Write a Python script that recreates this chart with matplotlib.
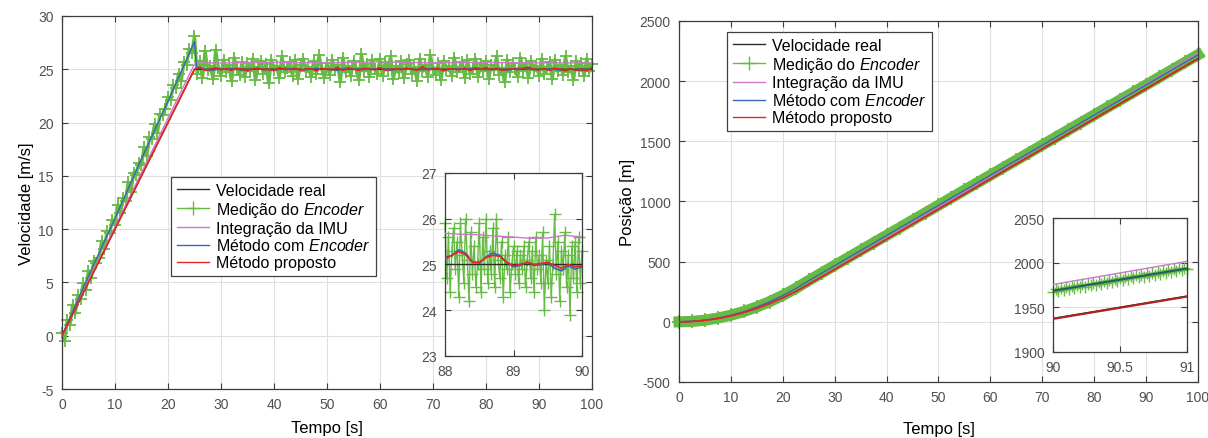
import numpy as np
import matplotlib.pyplot as plt
from matplotlib.lines import Line2D

plt.rcParams['font.family'] = ['Liberation Sans', 'DejaVu Sans']
plt.rcParams['mathtext.fontset'] = 'custom'
plt.rcParams['mathtext.rm'] = 'Liberation Sans'
plt.rcParams['mathtext.it'] = 'Liberation Sans:italic'
plt.rcParams['axes.unicode_minus'] = False

# colours
c_true = '#2b2b2b'
c_enc = '#66bb44'
c_imu = '#cc77cc'
c_meth = '#3a66b8'
c_prop = '#e52424'

labels = ['Velocidade real', r'Medição do $\it{Encoder}$', 'Integração da IMU',
          r'Método com $\it{Encoder}$', 'Método proposto']

# ---------------- velocity, main axes ----------------
t_vel_enc = np.arange(0, 100.01, 0.5)
vel_enc = [0.3, -0.5, 1.5, 1.0, 2.9, 2.1, 3.8, 3.4, 4.9, 4.3, 6.1, 5.4, 7.0, 6.8, 7.3, 8.9, 8.1,
           9.8, 9.6, 10.9, 10.4, 12.3, 11.5, 12.9, 12.6, 14.4, 13.5, 15.3, 15.1, 16.2, 16.0, 17.7,
           16.9, 18.6, 18.5, 19.9, 19.0, 20.8, 20.7, 21.3, 22.4, 22.1, 23.5, 23.2, 24.6, 23.9, 25.7,
           25.4, 26.9, 26.5, 28.1,
           24.6, 25.8, 24.2, 26.7, 24.9, 25.3, 24.1, 26.8, 25.1, 24.4,
           25.9, 24.7, 25.4, 23.9, 26.1, 25.0, 24.5, 25.7, 24.3, 25.6,
           24.8, 26.0, 24.0, 25.2, 25.8, 24.6, 25.5, 23.7, 25.9, 24.9,
           25.3, 24.2, 26.2, 24.7, 25.1, 25.7, 24.4, 25.9, 24.1, 25.4,
           26.0, 24.8, 25.2, 24.3, 25.8, 24.6, 26.3, 25.0, 24.2, 25.6,
           24.5, 25.9, 24.9, 25.4, 23.8, 26.1, 24.7, 25.3, 24.4, 25.8,
           25.1, 24.0, 26.4, 24.8, 25.5, 24.3, 25.9, 25.0, 24.6, 26.0,
           24.4, 25.7, 24.9, 26.2, 24.1, 25.3, 24.7, 25.8, 24.2, 25.5,
           25.9, 24.6, 25.2, 23.9, 26.0, 24.8, 25.4, 24.3, 26.3, 25.1,
           24.5, 25.6, 24.0, 25.8, 24.9, 25.3, 24.4, 26.1, 24.7, 25.2,
           25.7, 24.2, 25.9, 24.6, 25.0, 26.0, 24.3, 25.5, 24.8, 25.8,
           24.1, 25.4, 24.9, 26.2, 24.5, 25.1, 23.8, 25.9, 24.7, 25.6,
           25.0, 24.3, 26.1, 24.8, 25.5, 24.2, 25.8, 24.9, 25.3, 24.4,
           26.0, 24.6, 25.2, 25.7, 24.1, 25.9, 24.8, 25.4, 24.5, 26.2,
           24.7, 25.3, 24.0, 25.8, 24.9, 25.6, 24.4, 26.0, 24.8, 25.5]

t_vel_true = [0, 25, 100]
vel_true = [0, 25, 25]

t_vel_imu = [0, 25, 26, 30, 40, 50, 60, 70, 80, 90, 100]
vel_imu = [0, 25.5, 25.6, 25.6, 25.65, 25.6, 25.7, 25.6, 25.65, 25.6, 25.6]

t_vel_meth = [0, 5, 10, 15, 20, 25, 25.4] + list(range(26, 101, 2))
vel_meth = [0, 5.6, 11.0, 16.6, 22.0, 27.6, 25.1,
            25.1, 24.9, 25.0, 25.1, 24.9, 25.05, 25.0, 24.9, 25.1, 25.0, 24.95, 25.1, 25.0,
            24.9, 25.15, 24.95, 25.0, 25.1, 24.9, 25.05, 25.0, 24.95, 25.1, 24.9, 25.05, 25.0,
            25.15, 24.95, 25.0, 24.9, 25.1, 25.0, 24.95, 25.05, 24.9, 25.0, 24.85, 25.1]

t_vel_prop = [0, 25] + list(range(26, 101))
vel_prop = [0, 25.0,
            25.2, 24.9, 25.0, 25.15, 24.95, 25.05, 24.9, 25.1, 25.0, 24.85,
            25.05, 25.1, 24.95, 25.0, 24.9, 25.15, 25.0, 24.95, 25.1, 24.9,
            25.0, 25.05, 24.85, 25.1, 25.0, 24.95, 25.2, 24.9, 25.05, 25.0,
            24.9, 25.1, 25.0, 24.95, 25.15, 24.9, 25.0, 25.05, 24.95, 25.1,
            25.0, 24.9, 25.25, 24.95, 25.0, 25.1, 24.85, 25.05, 25.0, 24.95,
            25.1, 24.9, 25.05, 25.0, 25.15, 24.95, 25.1, 24.9, 25.0, 25.05,
            24.95, 25.1, 25.2, 25.0, 24.95, 25.05, 24.9, 25.1, 25.0, 24.85,
            25.05, 24.9, 25.0, 24.85, 25.15]

# ---------------- velocity, inset 88-90 s ----------------
t_in_enc = np.linspace(88, 90, 81)
in_enc = [25.9, 24.7, 25.6, 24.4, 25.3, 25.8, 24.9, 25.5, 24.3, 25.9,
          25.2, 24.6, 26.0, 25.1, 24.2, 25.7, 24.8, 25.4, 24.5, 25.0,
          25.9, 24.4, 25.6, 24.9, 26.0, 24.6, 25.3, 24.8, 25.8, 24.5,
          26.0, 25.1, 24.7, 25.5, 24.3, 25.2, 24.9, 25.6, 24.4, 25.0,
          25.4, 24.8, 25.3, 24.6, 25.2, 24.9, 25.4, 24.5, 25.1, 25.5,
          24.7, 25.3, 24.4, 25.6, 24.9, 25.2, 24.6, 25.7, 24.0, 25.1,
          24.6, 25.4, 24.3, 25.0, 26.1, 24.8, 25.5, 24.2, 25.3, 24.9,
          25.7, 24.5, 25.2, 23.9, 25.4, 24.7, 25.5, 24.4, 25.6, 24.6,
          25.3]
t_in_imu = [88, 88.25, 88.5, 88.75, 89, 89.25, 89.5, 89.75, 90]
in_imu = [25.68, 25.66, 25.65, 25.62, 25.6, 25.57, 25.58, 25.64, 25.6]
t_in_f = np.linspace(88, 90, 21)
in_meth = [25.12, 25.2, 25.32, 25.25, 25.05, 25.03, 25.17, 25.25, 25.2, 25.05, 24.95,
           24.98, 25.05, 24.98, 25.0, 25.03, 24.92, 24.86, 24.97, 24.9, 24.95]
in_prop = [25.15, 25.2, 25.28, 25.22, 25.05, 25.05, 25.15, 25.2, 25.18, 25.05, 24.97,
           25.0, 25.05, 25.0, 25.02, 25.05, 24.98, 24.92, 25.0, 24.95, 24.97]

# ---------------- position, main axes ----------------
t_pos = np.arange(0, 100.01, 2.5)
pos_true = [0, 3.1, 12.5, 28.1, 50.0, 78.1, 112.5, 153.1, 200.0, 253.1, 312.5,
            375, 437.5, 500, 562.5, 625, 687.5, 750, 812.5, 875, 937.5, 1000, 1062.5,
            1125, 1187.5, 1250, 1312.5, 1375, 1437.5, 1500, 1562.5, 1625, 1687.5, 1750,
            1812.5, 1875, 1937.5, 2000, 2062.5, 2125, 2187.5]
pos_enc = [0, 3.4, 13.8, 30.9, 55.0, 85.9, 123.8, 168.4, 220.0, 278.4, 343.8,
           406.3, 468.8, 531.3, 593.8, 656.3, 718.8, 781.3, 843.8, 906.3, 968.8, 1031.3,
           1093.8, 1156.3, 1218.8, 1281.3, 1343.8, 1406.3, 1468.8, 1531.3, 1593.8, 1656.3,
           1718.8, 1781.3, 1843.8, 1906.3, 1968.8, 2031.3, 2093.8, 2156.3, 2218.8]
pos_imu = [0, 3.1, 12.5, 28.1, 50.0, 78.1, 112.5, 153.1, 200.0, 253.1, 312.5,
           376.5, 440.5, 504.5, 568.5, 632.5, 696.5, 760.5, 824.5, 888.5, 952.5, 1016.5,
           1080.5, 1144.5, 1208.5, 1272.5, 1336.5, 1400.5, 1464.5, 1528.5, 1592.5, 1656.5,
           1720.5, 1784.5, 1848.5, 1912.5, 1976.5, 2040.5, 2104.5, 2168.5, 2232.5]
pos_meth = [0, 3.3, 13.6, 30.6, 54.5, 85.2, 122.8, 167.2, 218.6, 276.8, 341.9,
            404.6, 467.2, 529.8, 592.3, 654.8, 717.4, 780.0, 842.5, 905.0, 967.6, 1030.1,
            1092.6, 1155.2, 1217.8, 1280.3, 1342.8, 1405.4, 1468.0, 1530.5, 1593.0, 1655.6,
            1718.2, 1780.7, 1843.2, 1905.8, 1968.4, 2030.9, 2093.4, 2156.0, 2218.5]
pos_prop = [0, 3.0, 12.4, 28.0, 49.8, 77.9, 112.2, 152.8, 199.6, 252.7, 312.0,
            374.5, 437.0, 499.5, 562.0, 624.5, 687.0, 749.5, 812.0, 874.5, 937.0, 999.5,
            1062.0, 1124.5, 1187.0, 1249.5, 1312.0, 1374.5, 1437.0, 1499.5, 1562.0, 1624.5,
            1687.0, 1749.5, 1812.0, 1874.5, 1937.0, 1999.5, 2062.0, 2124.5, 2187.0]

# ---------------- position, inset 90-91 s ----------------
t_pin_enc = np.linspace(90, 91, 51)
pin_enc = [1967.3, 1970.8, 1968.6, 1971.9, 1969.5, 1972.6, 1970.4, 1973.7, 1971.2, 1974.5,
           1972.4, 1975.9, 1973.3, 1976.6, 1974.7, 1977.8, 1975.4, 1978.9, 1976.2, 1979.5,
           1977.6, 1980.8, 1978.4, 1981.7, 1979.3, 1982.9, 1980.5, 1983.6, 1981.4, 1984.8,
           1982.6, 1985.9, 1983.5, 1986.7, 1984.4, 1987.9, 1985.6, 1988.6, 1986.3, 1989.8,
           1987.5, 1990.9, 1988.4, 1991.7, 1989.5, 1992.8, 1990.6, 1993.9, 1991.4, 1994.6,
           1992.9]
t_pin = [90, 91]
pin_true = [1937.5, 1962.5]
pin_imu = [1975.5, 2001.5]
pin_meth = [1968.5, 1993.5]
pin_prop = [1937.0, 1962.0]


def style(ax, fs=10):
    ax.tick_params(direction='in', top=True, right=True, length=4, width=0.8, pad=6,
                   labelsize=fs, colors='#3c3c3c', labelcolor='#505050')
    for s in ax.spines.values():
        s.set_color('#3c3c3c')
        s.set_linewidth(0.9)
    ax.grid(True, color='#e0e0e0', linewidth=0.8)
    ax.set_axisbelow(True)


fig = plt.figure(figsize=(12.08, 4.39), dpi=100)

# left panel
ax1 = fig.add_axes([0.0513, 0.1116, 0.4388, 0.8497])
ax1.plot(t_vel_enc, vel_enc, color=c_enc, lw=2.4, marker='+', ms=9, mew=1.3, zorder=2, clip_on=False)
ax1.plot(t_vel_true, vel_true, color=c_true, lw=1, zorder=3)
ax1.plot(t_vel_imu, vel_imu, color=c_imu, lw=1, zorder=3)
ax1.plot(t_vel_meth, vel_meth, color=c_meth, lw=1, zorder=4)
ax1.plot(t_vel_prop, vel_prop, color=c_prop, lw=1.2, zorder=5)
ax1.set_xlim(0, 100)
ax1.set_ylim(-5, 30)
ax1.set_xticks(range(0, 101, 10))
ax1.set_yticks(range(-5, 31, 5))
ax1.set_xlabel('Tempo [s]', fontsize=12, labelpad=6)
ax1.set_ylabel('Velocidade [m/s]', fontsize=12, labelpad=3)
style(ax1)

handles = [Line2D([], [], color=c_true, lw=1),
           Line2D([], [], color=c_enc, lw=1, marker='+', ms=10),
           Line2D([], [], color=c_imu, lw=1),
           Line2D([], [], color=c_meth, lw=1),
           Line2D([], [], color=c_prop, lw=1)]
leg_kw = dict(loc='upper left', fontsize=11.5, frameon=True, fancybox=False, framealpha=1,
              edgecolor='#404040', labelspacing=0.12, handlelength=2.0, handletextpad=0.45,
              borderpad=0.35, borderaxespad=0)
leg1 = ax1.legend(handles, labels, bbox_to_anchor=(0.2057, 0.568), **leg_kw)
leg1.get_frame().set_linewidth(0.9)

# left inset
ax1i = fig.add_axes([0.3684, 0.1868, 0.1134, 0.4169])
ax1i.plot(t_in_enc, in_enc, color=c_enc, lw=1, marker='+', ms=8, mew=1, zorder=2, clip_on=False)
ax1i.plot([88, 90], [25, 25], color=c_true, lw=1, zorder=3)
ax1i.plot(t_in_imu, in_imu, color=c_imu, lw=1, zorder=3)
ax1i.plot(t_in_f, in_meth, color=c_meth, lw=1.2, zorder=4)
ax1i.plot(t_in_f, in_prop, color=c_prop, lw=1.2, zorder=5)
ax1i.set_xlim(88, 90)
ax1i.set_ylim(23, 27)
ax1i.set_xticks([88, 89, 90])
ax1i.set_yticks([23, 24, 25, 26, 27])
style(ax1i)

# right panel
ax2 = fig.add_axes([0.5621, 0.1276, 0.4296, 0.8223])
ax2.plot(t_pos, pos_enc, color=c_enc, lw=8, marker='+', ms=10, mew=1.3, zorder=2, clip_on=False)
ax2.plot(t_pos, pos_true, color=c_true, lw=1, zorder=3)
ax2.plot(t_pos, pos_imu, color=c_imu, lw=1, zorder=3)
ax2.plot(t_pos, pos_meth, color=c_meth, lw=1, zorder=4)
ax2.plot(t_pos, pos_prop, color=c_prop, lw=1.2, zorder=5)
ax2.set_xlim(0, 100)
ax2.set_ylim(-500, 2500)
ax2.set_xticks(range(0, 101, 10))
ax2.set_yticks(range(-500, 2501, 500))
ax2.set_xlabel('Tempo [s]', fontsize=12, labelpad=12)
ax2.set_ylabel('Posição [m]', fontsize=12, labelpad=3)
style(ax2)
leg2 = ax2.legend(handles, labels, bbox_to_anchor=(0.0925, 0.9695), **leg_kw)
leg2.get_frame().set_linewidth(0.9)

# right inset
ax2i = fig.add_axes([0.8717, 0.1959, 0.1109, 0.3052])
ax2i.plot(t_pin_enc, pin_enc, color=c_enc, lw=1, marker='+', ms=8, mew=1, zorder=2, clip_on=False)
ax2i.plot(t_pin, pin_true, color=c_true, lw=1.2, zorder=3)
ax2i.plot(t_pin, pin_imu, color=c_imu, lw=1, zorder=3)
ax2i.plot(t_pin, pin_meth, color='#2a5a6a', lw=1.5, zorder=4)
ax2i.plot(t_pin, pin_prop, color='#b02020', lw=1.5, zorder=5)
ax2i.set_xlim(90, 91)
ax2i.set_ylim(1900, 2050)
ax2i.set_xticks([90, 90.5, 91])
ax2i.set_xticklabels(['90', '90.5', '91'])
ax2i.set_yticks([1900, 1950, 2000, 2050])
style(ax2i)

fig.savefig('out.png', dpi=100)
